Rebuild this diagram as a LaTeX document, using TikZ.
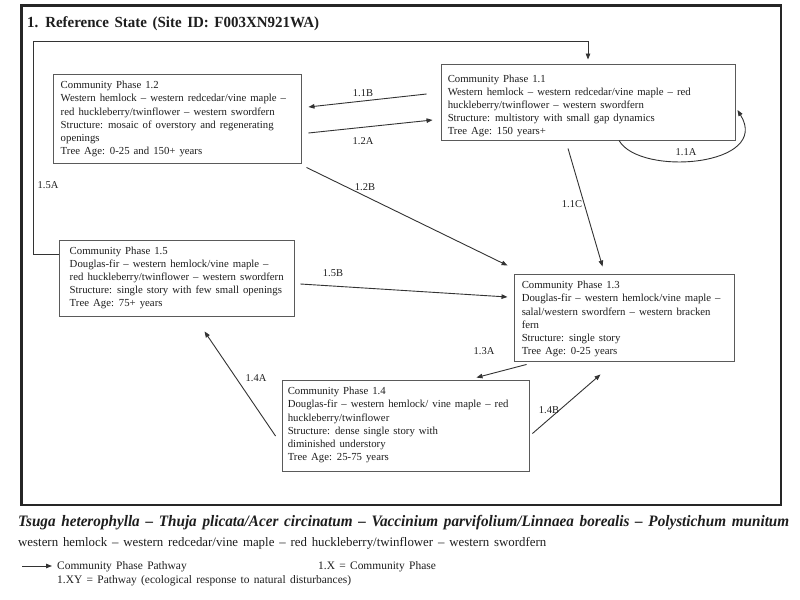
\documentclass[tikz,border=0pt]{standalone}
\usepackage{fontspec}
\setmainfont{Liberation Serif}
\newfontfamily\boxfont[WordSpace=1.5,Ligatures=TeX]{Liberation Serif}
\usetikzlibrary{arrows.meta,calc}
\definecolor{boxline}{HTML}{5A5A5A}
\definecolor{conn}{HTML}{333333}
\definecolor{ink}{HTML}{1E1E1E}
\begin{document}
\begin{tikzpicture}[x=1bp,y=-1bp,
  box/.style={draw=boxline, line width=0.9bp, rectangle, inner sep=0pt},
  txt/.style={align=left, inner sep=0pt, anchor=north west, text=ink, font=\boxfont\fontsize{10.8}{13.2}\selectfont},
  lbl/.style={inner sep=0pt, text=ink, font=\fontsize{10.5}{12}\selectfont},
  arr/.style={draw=conn, line width=0.9bp, -{Triangle[length=6bp,width=4.5bp]}},
  legend/.style={inner sep=0pt, anchor=base west, text=ink, font=\boxfont\fontsize{11.5}{13}\selectfont}]
\useasboundingbox (0,0) rectangle (800,600);
\fill[white] (0,0) rectangle (800,600);
% outer frame
\draw[line width=2.5bp, black!85] (21.5,5.5) rectangle (781,505);
\node[inner sep=0pt, anchor=base west, text=ink] (title) at (27,27.5) {\resizebox{292bp}{\height}{\fontsize{15.5}{17}\selectfont\bfseries 1. Reference State (Site ID: F003XN921WA)}};
% boxes
\node[box, minimum width=294bp, minimum height=76bp] (b11) at (588,102) {};
\node[box, minimum width=248bp, minimum height=89bp] (b12) at (177,118.5) {};
\node[box, minimum width=220bp, minimum height=87bp] (b13) at (624,317.5) {};
\node[box, minimum width=247bp, minimum height=91bp] (b14) at (405.5,425.5) {};
\node[box, minimum width=235bp, minimum height=76bp] (b15) at (176.5,278) {};
% box texts
\node[txt] (t11) at ([shift={(7,11)}]b11.north west) {Community Phase 1.1\\Western hemlock – western redcedar/vine maple – red\\huckleberry/twinflower – western swordfern\\Structure: multistory with small gap dynamics\\Tree Age: 150 years+};
\node[txt] (t12) at ([shift={(8,7.5)}]b12.north west) {Community Phase 1.2\\Western hemlock – western redcedar/vine maple –\\red huckleberry/twinflower – western swordfern\\Structure: mosaic of overstory and regenerating\\openings\\Tree Age: 0-25 and 150+ years};
\node[txt] (t13) at ([shift={(8,7.5)}]b13.north west) {Community Phase 1.3\\Douglas-fir – western hemlock/vine maple –\\salal/western swordfern – western bracken\\fern\\Structure: single story\\Tree Age: 0-25 years};
\node[txt] (t14) at ([shift={(6,7.5)}]b14.north west) {Community Phase 1.4\\Douglas-fir – western hemlock/ vine maple – red\\huckleberry/twinflower\\Structure: dense single story with\\diminished understory\\Tree Age: 25-75 years};
\node[txt] (t15) at ([shift={(11,7)}]b15.north west) {Community Phase 1.5\\Douglas-fir – western hemlock/vine maple –\\red huckleberry/twinflower – western swordfern\\Structure: single story with few small openings\\Tree Age: 75+ years};
% pathways
\draw[arr] ([shift={(-14,-8)}]b11.west) -- ([shift={(7,-11.5)}]b12.east);
\draw[arr] ([shift={(7,14.5)}]b12.east) -- ([shift={(-8,18)}]b11.west);
\draw[arr] ([shift={(5,4)}]b12.south east) -- ([shift={(-6,-8)}]b13.north west);
\draw[arr] ([shift={(-20,8)}]b11.south) -- ([shift={(89,-7)}]b13.north west);
\draw[arr] ([shift={(31,0)}]b11.south) .. controls (640,177) and (772,166) .. ([shift={(2,8)}]b11.east);
\draw[arr] ([shift={(6,6)}]b15.east) -- ([shift={(-6,-20.5)}]b13.west);
\draw[arr] ([shift={(13,3)}]b13.south west) -- ([shift={(-53,-2)}]b14.north east);
\draw[arr] ([shift={(-6,10.5)}]b14.west) -- ([shift={(28,15)}]b15.south);
\draw[arr] ([shift={(3,8)}]b14.east) -- ([shift={(87,13)}]b13.south west);
\coordinate (r15) at (33,41);
\draw[arr] ([shift={(0,-24)}]b15.west) -| (r15) -| ([shift={(0,-4)}]b11.north);
% labels
\node[lbl] (l11b) at (363,93) {1.1B};
\node[lbl] (l12a) at (363,141) {1.2A};
\node[lbl] (l12b) at (365,187) {1.2B};
\node[lbl] (l11c) at (572,204) {1.1C};
\node[lbl] (l11a) at (686,152) {1.1A};
\node[lbl] (l15a) at (48,185) {1.5A};
\node[lbl] (l15b) at (333,273) {1.5B};
\node[lbl] (l13a) at (484,351) {1.3A};
\node[lbl] (l14a) at (256,378) {1.4A};
\node[lbl] (l14b) at (549,410) {1.4B};
% bottom text
\node[inner sep=0pt, anchor=base west, text=ink] (sci) at (18,526.5) {\resizebox{771bp}{\height}{\fontsize{16}{18}\selectfont\bfseries\itshape Tsuga heterophylla – Thuja plicata/Acer circinatum – Vaccinium parvifolium/Linnaea borealis – Polystichum munitum}};
\node[inner sep=0pt, anchor=base west, text=ink] (com) at (18,546) {\resizebox{528bp}{\height}{\fontsize{13}{15}\selectfont western hemlock – western redcedar/vine maple – red huckleberry/twinflower – western swordfern}};
% legend
\coordinate (lg1) at (22,566);
\coordinate (lg2) at (52,566);
\draw[arr] (lg1) -- (lg2);
\node[legend] (lgA) at (57,569.5) {Community Phase Pathway};
\node[legend] (lgB) at (318,569.5) {1.X = Community Phase};
\node[legend] (lgC) at (57,583.5) {1.XY = Pathway (ecological response to natural disturbances)};
\end{tikzpicture}
\end{document}
